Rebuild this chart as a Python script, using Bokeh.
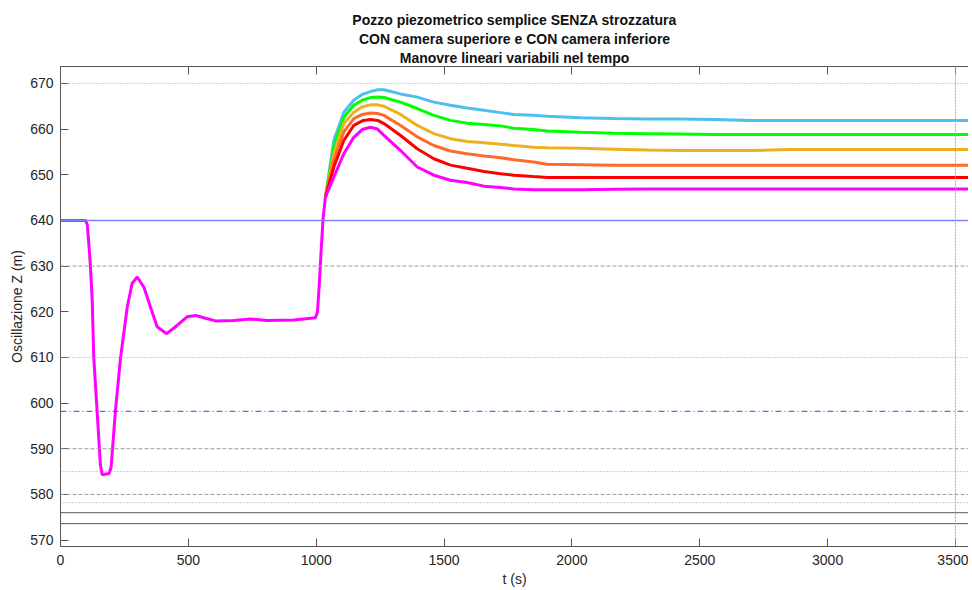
from bokeh.plotting import figure
from bokeh.models import Span, Title, LinearAxis, FixedTicker, Range1d
from bokeh.embed import file_html
from bokeh.resources import INLINE

title_lines = ["Pozzo piezometrico semplice SENZA strozzatura",
               "CON camera superiore e CON camera inferiore",
               "Manovre lineari variabili nel tempo"]
x_label = "t (s)"
y_label = "Oscillazione Z (m)"
x_ticks = [0, 500, 1000, 1500, 2000, 2500, 3000, 3500]
y_ticks = [570, 580, 590, 600, 610, 620, 630, 640, 650, 660, 670]

# first phase (shared by all manoeuvres, drawn in magenta)
t_a = [0, 98, 105, 112, 117, 124, 130, 143, 156, 163, 190, 198, 215, 235, 261, 280,
       300, 326, 352, 378, 415, 456, 495, 528, 560, 606, 678, 743, 808, 913, 997,
       1005, 1012, 1020, 1027, 1036]
z_a = [640, 640, 639, 634, 630, 622.5, 610.1, 598.4, 586.5, 584.3, 584.6, 586, 598.4,
       610, 621, 626.2, 627.6, 625.4, 621, 616.7, 615.2, 617, 618.9, 619.2, 618.7,
       618.0, 618.1, 618.4, 618.1, 618.2, 618.7, 620, 626, 634, 640.5, 645.1]

# second phase: one series per manoeuvre
t_b = [1036, 1069, 1108, 1147, 1180, 1212, 1240, 1265, 1330, 1395, 1460, 1525, 1590,
       1656, 1721, 1773, 1850, 1903, 2034, 2164, 2295, 2425, 2555, 2700, 2850, 3000,
       3200, 3400, 3600]
z_blue = [645.1, 657.5, 663.7, 666.3, 667.6, 668.2, 668.6, 668.6, 667.7, 667.0, 665.9,
          665.2, 664.6, 664.1, 663.6, 663.2, 663.0, 662.8, 662.5, 662.3, 662.2, 662.2,
          662.1, 661.9, 661.9, 661.9, 661.9, 661.9, 661.9]
z_green = [645.1, 656.1, 662.6, 665.2, 666.3, 666.9, 667.0, 666.9, 665.9, 664.5, 663.0,
           661.9, 661.3, 661.0, 660.7, 660.2, 659.9, 659.6, 659.3, 659.1, 659.0, 658.9,
           658.8, 658.8, 658.8, 658.8, 658.8, 658.8, 658.8]
z_gold = [645.1, 654.6, 661.2, 663.7, 664.9, 665.3, 665.3, 665.0, 663.2, 660.8, 659.0,
          657.9, 657.3, 657.0, 656.7, 656.4, 656.0, 655.9, 655.8, 655.6, 655.4, 655.3,
          655.3, 655.3, 655.5, 655.5, 655.5, 655.5, 655.5]
z_orange = [645.1, 653.2, 659.4, 662.3, 663.2, 663.5, 663.4, 663.0, 660.8, 658.3, 656.4,
            655.2, 654.6, 654.1, 653.7, 653.3, 652.8, 652.3, 652.2, 652.1, 652.1, 652.1,
            652.1, 652.1, 652.1, 652.1, 652.1, 652.1, 652.1]
z_red = [645.1, 651.7, 657.5, 660.8, 661.8, 662.1, 661.9, 661.2, 658.6, 655.7, 653.5,
         652.1, 651.4, 650.7, 650.2, 649.9, 649.6, 649.4, 649.4, 649.4, 649.4, 649.4,
         649.4, 649.4, 649.4, 649.4, 649.4, 649.4, 649.4]
z_magenta = [645.1, 649.5, 654.6, 658.2, 659.9, 660.4, 660.0, 658.6, 655.3, 651.7, 649.9,
             648.8, 648.3, 647.5, 647.2, 646.9, 646.7, 646.7, 646.7, 646.8, 646.9, 646.9,
             646.9, 646.9, 646.9, 646.9, 646.9, 646.9, 646.9]

series = [("#4DBEEE", z_blue), ("#00FF00", z_green), ("#EDB120", z_gold),
          ("#FF6A2A", z_orange), ("#FF0000", z_red), ("#FF00FF", z_magenta)]

# reference levels
h_levels = [670, 640, 630, 610, 598.2, 590, 585, 580, 578.2, 576, 573.6]
h_colors = ["#999999", "#8080FF", "#999999", "#999999", "#4444EE", "#999999",
            "#999999", "#999999", "#999999", "#555555", "#555555"]
h_dashes = ["1 2", "solid", "4 2", "1 2", "6 3 1 3", "4 2", "1 2", "4 2", "1 2",
            "solid", "solid"]
h_widths = [1, 1.5, 1, 1, 1, 1, 1, 1, 1, 1, 1]
v_level = 3500

FONT = "'Liberation Sans', Arial, sans-serif"

p = figure(width=968, height=589, output_backend="svg", toolbar_location=None,
           x_range=Range1d(0, 3551), y_range=Range1d(568.6, 673.7),
           min_border_left=60, min_border_right=0, min_border_top=66,
           min_border_bottom=0, title=None)
p.outline_line_color = None
p.xgrid.visible = False
p.ygrid.visible = False
p.background_fill_color = "white"

for lv, c, d, w in zip(h_levels, h_colors, h_dashes, h_widths):
    p.add_layout(Span(location=lv, dimension="width", line_color=c,
                      line_dash=d, line_width=w))
p.add_layout(Span(location=v_level, dimension="height", line_color="#aaaaaa",
                  line_dash="2 1", line_width=1))

for color, z in series:
    p.line(t_b, z, line_color=color, line_width=3)
p.line(t_a, z_a, line_color="#FF00FF", line_width=3)

for ax in (p.xaxis[0], p.yaxis[0]):
    ax.major_tick_in = 8
    ax.major_tick_out = 0
    ax.minor_tick_line_color = None
    ax.axis_line_color = "#555555"
    ax.major_tick_line_color = "#555555"
    ax.major_label_text_font = FONT
    ax.major_label_text_font_size = "14px"
    ax.major_label_text_color = "#262626"
    ax.axis_label_text_font = FONT
    ax.axis_label_text_font_size = "14px"
    ax.axis_label_text_font_style = "normal"
    ax.axis_label_text_color = "#262626"

p.xaxis.ticker = FixedTicker(ticks=x_ticks)
p.yaxis.ticker = FixedTicker(ticks=y_ticks)
p.xaxis.axis_label = x_label
p.yaxis.axis_label = y_label
p.xaxis.major_label_standoff = 8
p.xaxis.axis_label_standoff = 3
p.yaxis.major_label_standoff = 7
p.yaxis.axis_label_standoff = 2

top = LinearAxis(ticker=FixedTicker(ticks=x_ticks))
top.major_tick_in = 8
top.major_tick_out = 0
top.minor_tick_line_color = None
top.axis_line_color = "#555555"
top.major_tick_line_color = "#555555"
top.major_label_overrides = {t: "" for t in x_ticks}
top.major_label_text_font_size = "1px"
top.major_label_standoff = 0
p.add_layout(top, "above")

for line in reversed(title_lines):
    p.add_layout(Title(text=line, align="center", text_font="'Liberation Sans Narrow', 'Liberation Sans', Arial",
                       text_font_size="14px", text_font_style="bold",
                       text_color="#111111", standoff=1), "above")

open("out.html", "w").write(file_html(p, INLINE))
